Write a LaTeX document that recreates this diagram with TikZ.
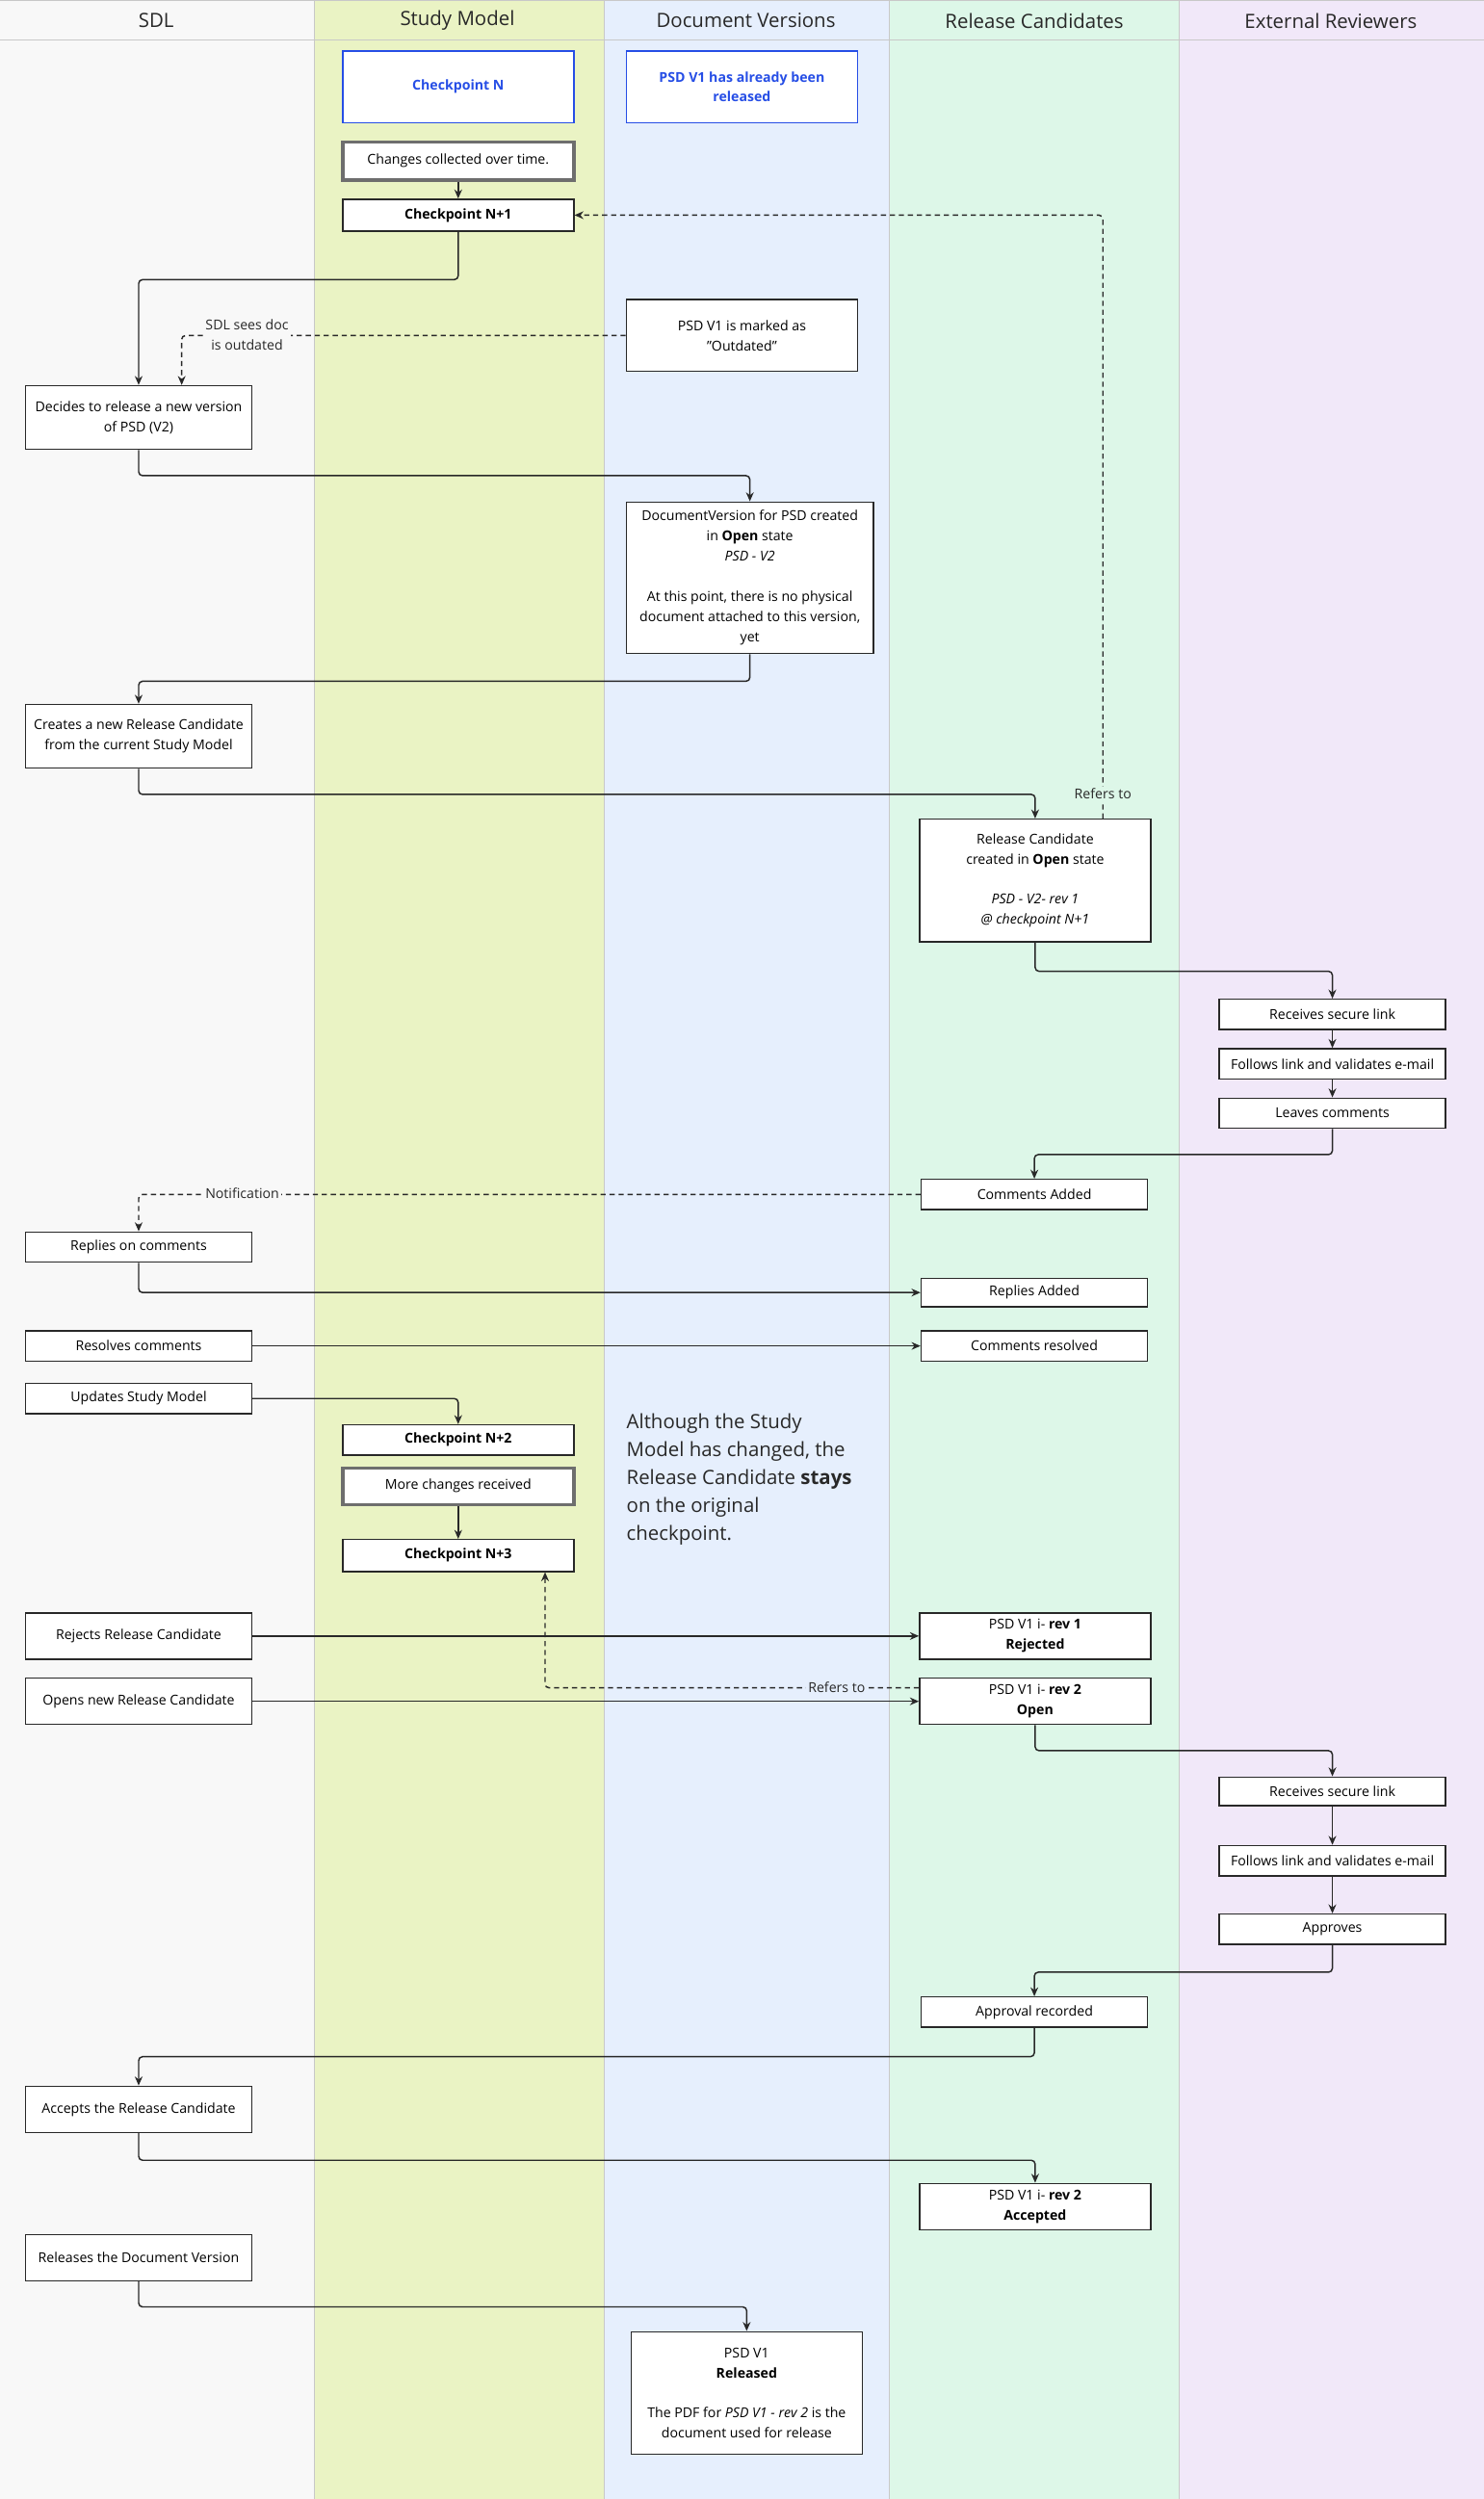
\documentclass[tikz,border=0pt]{standalone}
\usepackage{fontspec}
\setmainfont{Open Sans}
\usetikzlibrary{calc,arrows.meta}
\definecolor{laneA}{RGB}{248,248,248}
\definecolor{laneB}{RGB}{234,243,196}
\definecolor{laneC}{RGB}{230,239,253}
\definecolor{laneD}{RGB}{221,247,232}
\definecolor{laneE}{RGB}{241,232,249}
\definecolor{sep}{RGB}{200,200,200}
\definecolor{bl}{RGB}{38,78,230}
\definecolor{ink}{RGB}{40,40,40}
\definecolor{gb}{RGB}{110,110,110}
\newcommand\bx[7][box]{\node[#1, minimum width={(#4-#2)*1.2405pt}, minimum height={(#5-#3)*1.2405pt}] (#6) at ({(#2+#4)/2},{(#3+#5)/2}) {#7};}
\tikzset{
  box/.style={draw=ink, line width=1.1pt, fill=white, inner sep=0pt, align=center, font=\fontsize{10.6}{15.7}\selectfont, text=black},
  bbox/.style={box, draw=bl, text=bl, font=\fontsize{10.6}{15.7}\selectfont\bfseries},
  gbox/.style={box, draw=gb, line width=2.6pt},
  conn/.style={draw=ink, line width=1.1pt, rounded corners=3pt, -{Stealth[length=7pt,width=6pt]}},
  dconn/.style={conn, dash pattern=on 4pt off 3pt},
  lbl/.style={inner sep=1.5pt, text=ink, font=\fontsize{10.6}{15.5}\selectfont, align=center},
  hdr/.style={font=\fontsize{15.3}{18}\selectfont, text=ink}
}
\begin{document}
\begin{tikzpicture}[x=1.2405pt,y=-1.2405pt]
\useasboundingbox (0,0) rectangle (931,1568);
\fill[laneA] (0,0) rectangle (197,1568);
\fill[laneB] (197,0) rectangle (379,1568);
\fill[laneC] (379,0) rectangle (558,1568);
\fill[laneD] (558,0) rectangle (740,1568);
\fill[laneE] (740,0) rectangle (931,1568);
\foreach \x in {197,379,558,740} \draw[sep, line width=0.8pt] (\x,0) -- (\x,1568);
\draw[sep, line width=0.8pt] (0,25) -- (931,25);
\draw[sep, line width=0.8pt] (0,0.5) -- (931,0.5);
\node[hdr] (h1) at (98,13) {SDL};
\node[hdr] (h2) at (287,13) {Study Model};
\node[hdr] (h3) at (468,13) {Document Versions};
\node[hdr] (h4) at (649,13) {Release Candidates};
\node[hdr] (h5) at (835,13) {External Reviewers};

\bx[bbox]{215}{32}{360}{77}{cpn}{Checkpoint N}
\bx[bbox]{393}{32}{538}{77}{rel}{PSD V1 has already been\\released}
\bx[gbox]{215}{89}{360}{113}{chg}{Changes collected over time.}
\bx{215}{125}{360}{145}{cp1}{\textbf{Checkpoint N+1}}
\bx{393}{188}{538}{233}{out}{PSD V1 is marked as\\"Outdated"}
\bx{16}{242}{158}{282}{dec}{Decides to release a new version\\of PSD (V2)}
\bx{393}{315}{548}{410}{dv}{DocumentVersion for PSD created\\in \textbf{Open} state\\\textit{PSD - V2}\\[15.5pt]At this point, there is no physical\\document attached to this version,\\yet}
\bx{16}{442}{158}{482}{cre}{Creates a new Release Candidate\\from the current Study Model}
\bx{577}{514}{722}{591}{rc}{Release Candidate\\created in \textbf{Open} state\\[15.5pt]\textit{PSD - V2- rev 1}\\\textit{@ checkpoint N+1}}
\bx{765}{627}{907}{646}{rs1}{Receives secure link}
\bx{765}{658}{907}{677}{fl1}{Follows link and validates e-mail}
\bx{765}{689}{907}{708}{lc}{Leaves comments}
\bx{578}{740}{720}{759}{cad}{Comments Added}
\bx{16}{773}{158}{792}{roc}{Replies on comments}
\bx{578}{802}{720}{820}{rad}{Replies Added}
\bx{16}{835}{158}{854}{rsc}{Resolves comments}
\bx{578}{835}{720}{854}{crs}{Comments resolved}
\bx{16}{868}{158}{887}{usm}{Updates Study Model}
\bx{215}{894}{360}{913}{cp2}{\textbf{Checkpoint N+2}}
\bx[gbox]{215}{921}{360}{944}{mcr}{More changes received}
\bx{215}{966}{360}{986}{cp3}{\textbf{Checkpoint N+3}}
\bx{16}{1012}{158}{1041}{rej}{Rejects Release Candidate}
\bx{577}{1012}{722}{1041}{rv1}{PSD V1 i- \textbf{rev 1}\\\textbf{Rejected}}
\bx{16}{1053}{158}{1082}{opn}{Opens new Release Candidate}
\bx{577}{1053}{722}{1082}{rv2}{PSD V1 i- \textbf{rev 2}\\\textbf{Open}}
\bx{765}{1115}{907}{1133}{rs2}{Receives secure link}
\bx{765}{1158}{907}{1177}{fl2}{Follows link and validates e-mail}
\bx{765}{1201}{907}{1220}{apv}{Approves}
\bx{578}{1253}{720}{1272}{apr}{Approval recorded}
\bx{16}{1309}{158}{1338}{acc}{Accepts the Release Candidate}
\bx{577}{1370}{722}{1399}{rva}{PSD V1 i- \textbf{rev 2}\\\textbf{Accepted}}
\bx{16}{1402}{158}{1431}{rdv}{Releases the Document Version}
\bx{396}{1463}{541}{1540}{fin}{PSD V1\\\textbf{Released}\\[15.5pt]The PDF for \textit{PSD V1 - rev 2} is the\\document used for release}

\node[anchor=north west, inner sep=0pt, align=left, text=ink, font=\fontsize{15.3}{21.7}\selectfont] (note) at (393,887) {Although the Study\\Model has changed, the\\Release Candidate \textbf{stays}\\on the original\\checkpoint.};

% connectors
\draw[conn] (chg.south) -- (cp1.north);
\draw[conn] (cp1.south) -- ++(0,30) -| (dec.north);
\draw[dconn] (out.west) -| ($(dec.north)+(27,0)$);
\node[lbl, fill=laneA] (l1) at (155,210) {SDL sees doc\\is outdated};
\draw[conn] (dec.south) -- ++(0,16) -| (dv.north);
\draw[conn] (dv.south) -- ++(0,17) -| (cre.north);
\draw[conn] (cre.south) -- ++(0,16) -| (rc.north);
\draw[dconn] ($(rc.north)+(42.5,0)$) |- (cp1.east);
\node[lbl, fill=laneD] (l2) at (692,498) {Refers to};
\draw[conn] (rc.south) -- ++(0,18) -| (rs1.north);
\draw[conn] (rs1.south) -- (fl1.north);
\draw[conn] (fl1.south) -- (lc.north);
\draw[conn] (lc.south) -- ++(0,16) -| (cad.north);
\draw[dconn] (cad.west) -| (roc.north);
\node[lbl, fill=laneA] (l3) at (152,749) {Notification};
\draw[conn] (roc.south) |- (rad.west);
\draw[conn] (rsc.east) -- (crs.west);
\draw[conn] (usm.east) -| (cp2.north);
\draw[conn] (mcr.south) -- (cp3.north);
\draw[conn] (rej.east) -- (rv1.west);
\draw[dconn] ($(rv2.west)+(0,-8.5)$) -| ($(cp3.south)+(54.5,0)$);
\node[lbl, fill=laneC] (l4) at (525,1059) {Refers to};
\draw[conn] (opn.east) -- (rv2.west);
\draw[conn] (rv2.south) -- ++(0,16) -| (rs2.north);
\draw[conn] (rs2.south) -- (fl2.north);
\draw[conn] (fl2.south) -- (apv.north);
\draw[conn] (apv.south) -- ++(0,17) -| (apr.north);
\draw[conn] (apr.south) -- ++(0,18) -| (acc.north);
\draw[conn] (acc.south) -- ++(0,17) -| (rva.north);
\draw[conn] (rdv.south) -- ++(0,16) -| (fin.north);
\end{tikzpicture}
\end{document}
